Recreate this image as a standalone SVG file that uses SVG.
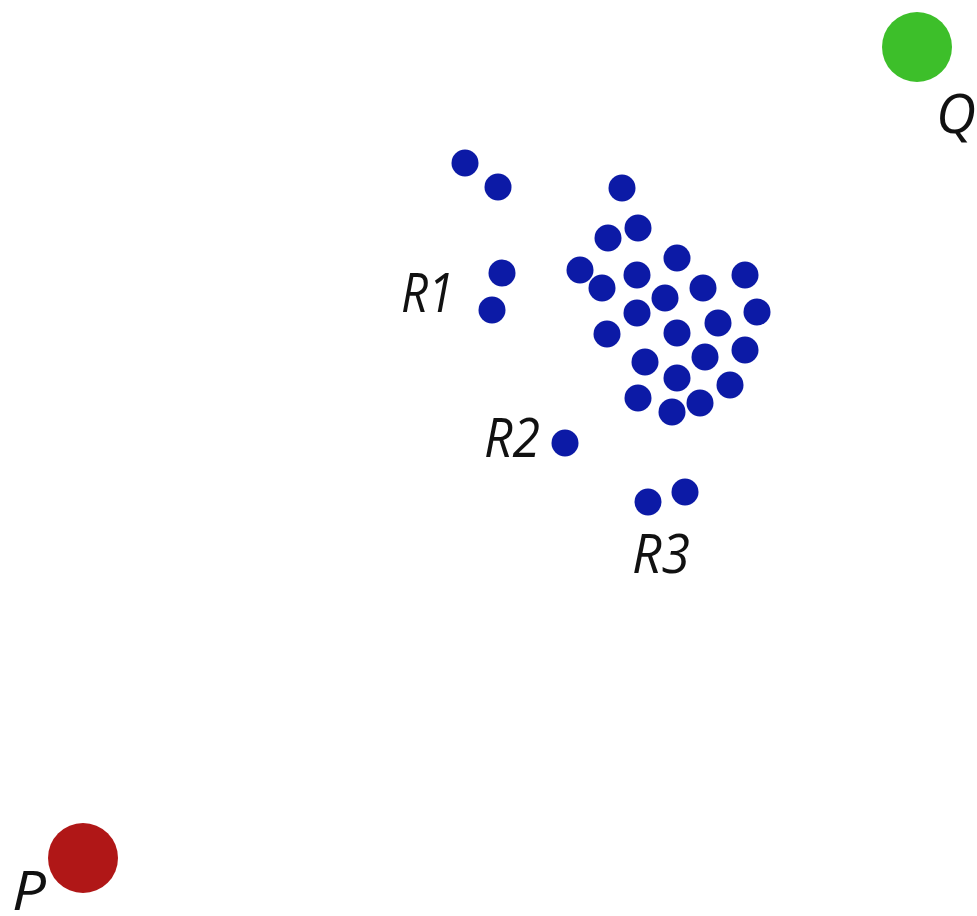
<svg xmlns="http://www.w3.org/2000/svg" width="977" height="916" viewBox="0 0 977 916">
<style>
.b{fill:#0c1aa6}
.t{font-family:"Open Sans","Liberation Sans",sans-serif;font-style:italic;font-size:55px;fill:#111}
</style>
<rect width="977" height="916" fill="#fff"/>
<g id="Q"><circle cx="917" cy="47" r="35" fill="#3dbf2a"/><text class="t" x="936" y="133" textLength="40" lengthAdjust="spacingAndGlyphs">Q</text></g>
<g id="P"><circle cx="83" cy="858" r="35" fill="#b01717"/><text class="t" x="12" y="910" textLength="34" lengthAdjust="spacingAndGlyphs">P</text></g>
<g id="R1"><text class="t" x="401" y="312" textLength="53" lengthAdjust="spacingAndGlyphs">R1</text></g>
<g id="R2"><text class="t" x="484" y="457" textLength="56" lengthAdjust="spacingAndGlyphs">R2</text></g>
<g id="R3"><text class="t" x="632" y="573" textLength="58" lengthAdjust="spacingAndGlyphs">R3</text></g>
<g id="dots">
<circle class="b" cx="465" cy="163" r="13.5"/>
<circle class="b" cx="498" cy="187" r="13.5"/>
<circle class="b" cx="502" cy="273" r="13.5"/>
<circle class="b" cx="492" cy="310" r="13.5"/>
<circle class="b" cx="622" cy="188" r="13.5"/>
<circle class="b" cx="638" cy="228" r="13.5"/>
<circle class="b" cx="608" cy="238" r="13.5"/>
<circle class="b" cx="580" cy="270" r="13.5"/>
<circle class="b" cx="677" cy="258" r="13.5"/>
<circle class="b" cx="637" cy="275" r="13.5"/>
<circle class="b" cx="745" cy="275" r="13.5"/>
<circle class="b" cx="602" cy="288" r="13.5"/>
<circle class="b" cx="703" cy="288" r="13.5"/>
<circle class="b" cx="665" cy="298" r="13.5"/>
<circle class="b" cx="757" cy="312" r="13.5"/>
<circle class="b" cx="637" cy="313" r="13.5"/>
<circle class="b" cx="718" cy="323" r="13.5"/>
<circle class="b" cx="607" cy="334" r="13.5"/>
<circle class="b" cx="677" cy="333" r="13.5"/>
<circle class="b" cx="645" cy="362" r="13.5"/>
<circle class="b" cx="705" cy="357" r="13.5"/>
<circle class="b" cx="745" cy="350" r="13.5"/>
<circle class="b" cx="677" cy="378" r="13.5"/>
<circle class="b" cx="638" cy="398" r="13.5"/>
<circle class="b" cx="730" cy="385" r="13.5"/>
<circle class="b" cx="700" cy="403" r="13.5"/>
<circle class="b" cx="672" cy="412" r="13.5"/>
<circle class="b" cx="565" cy="443" r="13.5"/>
<circle class="b" cx="648" cy="502" r="13.5"/>
<circle class="b" cx="685" cy="492" r="13.5"/>
</g>
</svg>
